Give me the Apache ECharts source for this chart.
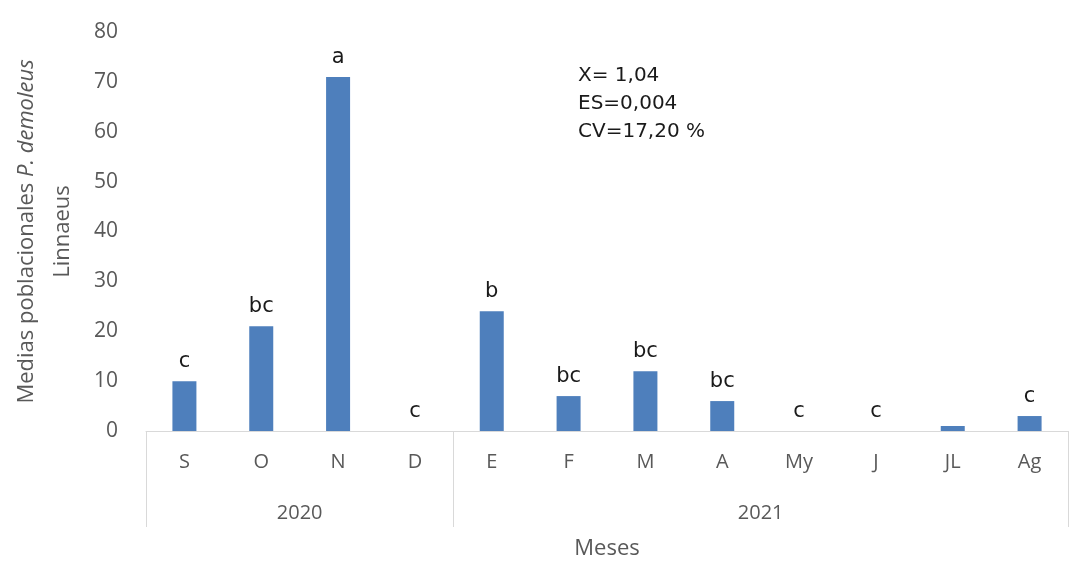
<!DOCTYPE html>
<html>
<head>
<meta charset="utf-8">
<script src="https://cdn.jsdelivr.net/npm/echarts@6/dist/echarts.min.js"></script>
<style>
  html, body { margin: 0; padding: 0; background: #fff; }
  #chart { width: 1092px; height: 562px; }
</style>
</head>
<body>
<div id="chart"></div>
<script>
// Monthly population means of P. demoleus, Sep 2020 – Aug 2021
const months = ['S', 'O', 'N', 'D', 'E', 'F', 'M', 'A', 'My', 'J', 'JL', 'Ag'];
const means = [10, 21, 71, 0, 24, 7, 12, 6, 0, 0, 1, 3];
const groups = ['c', 'bc', 'a', 'c', 'b', 'bc', 'bc', 'bc', 'c', 'c', '', 'c'];
const years = ['2020', '2021'];
const yearSpans = [4, 8];          // number of months in each year group
const yTicks = [0, 10, 20, 30, 40, 50, 60, 70, 80];
const stats = ['X= 1,04', 'ES=0,004', 'CV=17,20 %'];

// boundaries and centres of the year groups, in month units
const yearEdges = [0];
yearSpans.forEach(s => yearEdges.push(yearEdges[yearEdges.length - 1] + s));
const yearCentres = yearSpans.map((s, i) => yearEdges[i] + s / 2);

const axisGrey = '#595959';
const lineGrey = '#d9d9d9';
const axisFont = '"Open Sans", Lato, sans-serif';
const markFont = '"DejaVu Sans", "Liberation Sans", sans-serif';

const chart = echarts.init(document.getElementById('chart'));
chart.setOption({
  animation: false,
  backgroundColor: '#ffffff',
  title: {
    text: stats.join('\n'),
    left: 573,
    top: 57,
    textStyle: {
      fontFamily: markFont,
      fontSize: 20,
      fontWeight: 'normal',
      color: '#1a1a1a',
      lineHeight: 28
    }
  },
  grid: { left: 146, right: 24, top: 32, bottom: 131, containLabel: false, outerBoundsMode: 'none' },
  xAxis: [
    {
      type: 'category',
      data: months,
      position: 'bottom',
      axisLine: { show: true, lineStyle: { color: lineGrey, width: 1 } },
      axisTick: { show: false },
      axisLabel: { color: axisGrey, fontFamily: axisFont, fontSize: 20, margin: 21 },
      name: 'Meses',
      nameLocation: 'middle',
      nameGap: 107,
      nameTextStyle: { color: axisGrey, fontFamily: axisFont, fontSize: 22 }
    },
    {
      type: 'value',
      min: 0,
      max: months.length,
      position: 'bottom',
      splitLine: { show: false },
      axisLine: { show: false },
      axisTick: {
        show: true,
        customValues: yearEdges,
        length: 96,
        lineStyle: { color: lineGrey, width: 1 }
      },
      axisLabel: {
        customValues: yearCentres,
        formatter: v => years[yearCentres.indexOf(v)] || '',
        color: axisGrey,
        fontFamily: axisFont,
        fontSize: 20,
        margin: 72
      }
    }
  ],
  yAxis: {
    type: 'value',
    min: yTicks[0],
    max: yTicks[yTicks.length - 1],
    interval: yTicks[1] - yTicks[0],
    axisLine: { show: false },
    axisTick: { show: false },
    splitLine: { show: false },
    axisLabel: { color: axisGrey, fontFamily: axisFont, fontSize: 21, margin: 28 },
    name: '{n|Medias poblacionales }{i|P. demoleus}\n{n|Linnaeus}',
    nameLocation: 'middle',
    nameRotate: 90,
    nameGap: 65,
    nameTextStyle: {
      color: axisGrey,
      fontFamily: axisFont,
      fontSize: 22,
      lineHeight: 36,
      align: 'center',
      rich: {
        n: { fontFamily: axisFont, fontSize: 22, color: axisGrey, lineHeight: 36 },
        i: { fontFamily: axisFont, fontSize: 22, color: axisGrey, fontStyle: 'italic', lineHeight: 36 }
      }
    }
  },
  series: [{
    type: 'bar',
    xAxisIndex: 0,
    data: means,
    barWidth: 24,
    itemStyle: { color: '#4e7fbc', borderWidth: 0 },
    label: {
      show: true,
      position: 'top',
      distance: 9,
      formatter: p => groups[p.dataIndex],
      fontFamily: markFont,
      fontSize: 21,
      color: '#1a1a1a'
    }
  }]
});
</script>
</body>
</html>
